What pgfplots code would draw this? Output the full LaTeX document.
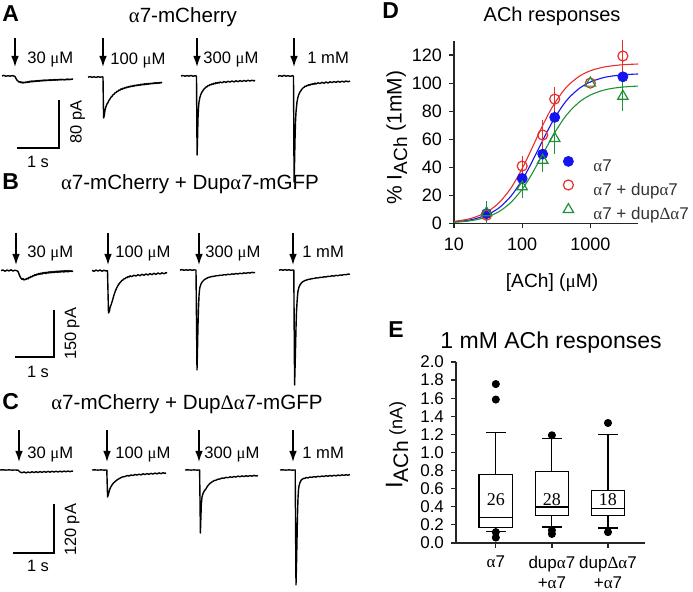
\documentclass[border=0pt]{standalone}
\usepackage{pgfplots}
\pgfplotsset{compat=1.18}
\usepgfplotslibrary{statistics}
\usetikzlibrary{arrows.meta}
\usepackage{fontspec}
\setmainfont{Liberation Sans}
\newfontfamily\grk{Liberation Serif}
\newcommand\ga{{\grk α}}
\newcommand\gm{{\grk μ}}
\newcommand\gD{{\grk Δ}}
\newcommand\fs[1]{\fontsize{#1}{#1}\selectfont}
\definecolor{cB}{RGB}{20,20,240}
\definecolor{cR}{RGB}{232,45,45}
\definecolor{cG}{RGB}{30,145,55}
\pgfplotsset{tr/.style={black, line width=0.7pt, line join=round, mark=none},
  arr/.style={black, line width=0.7pt, mark=none, -{Latex[length=5.5pt,width=3.8pt]}},
  sb/.style={black, line width=0.8pt, mark=none},
  every axis title shift=0pt}
\begin{document}
\begin{tikzpicture}
\useasboundingbox (0pt,0pt) rectangle (346.5pt,296pt);
% ---------------- left: current traces (pixel coordinates) ----------------
\begin{axis}[at={(0pt,0pt)}, anchor=south west, scale only axis,
  width=346.5pt, height=296pt, xmin=0, xmax=693, ymin=0, ymax=592,
  y dir=reverse, hide axis, clip=false]
% A traces
\addplot[tr] coordinates {(2,76.0)(4,75.4)(6,76.3)(8,75.7)(10,76.2)(12,75.6)(14,76.1)(15,76.5)(16,78.5)(17,80.2)(18,81.0)(19,82.2)(20,81.6)(21,82.8)(22,82.0)(23,83.1)(24,82.2)(25,82.9)(26,81.8)(27,82.6)(28,81.5)(29,82.4)(30,81.2)(31,82.0)(32,80.9)(33,81.9)(34,80.8)(35,81.6)(36,80.7)(37,81.5)(38,80.4)(39,81.3)(40,80.3)(41,81.1)(42,80.2)(43,81.0)(44,79.9)(45,80.8)(46,80.0)(47,80.7)(48,79.8)(49,80.6)(50,79.6)(51,80.5)(52,79.7)(53,80.3)(54,79.5)(55,80.4)(56,79.4)(57,80.2)(58,79.6)(59,80.1)(60,79.3)(61,80.0)(62,79.2)(63,79.9)(64,79.4)(65,80.0)(66,79.1)(67,79.7)(68,79.0)(69,79.8)(70,79.2)(71,79.6)(72,78.9)(73,79.4)};
\addplot[tr] coordinates {(88,77.2)(90,76.6)(92,77.3)(94,76.8)(96,77.4)(98,76.7)(100,77.2)(102,76.9)(103,77.0)(103.3,100)(103.6,118)(104.2,116)(105,110)(106,106.5)(107,104)(108,102.5)(109,100.3)(110,99.0)(111,97.2)(112,96.4)(113,94.8)(114,94.3)(115,92.9)(116,92.6)(117,91.4)(118,91.3)(119,90.0)(120,90.2)(121,88.9)(122,89.3)(123,88.2)(124,88.7)(125,87.5)(126,88.0)(127,86.9)(128,87.5)(129,86.4)(130,87.0)(131,85.9)(132,86.6)(133,85.5)(134,86.3)(135,85.1)(136,85.9)(137,84.8)(138,85.6)(139,84.6)(140,85.3)(141,84.2)(142,85.0)(143,84.0)(144,84.8)(145,83.7)(146,84.6)(147,83.5)(148,84.3)(149,83.4)(150,84.1)(151,83.1)(152,83.9)(153,83.0)(154,83.7)(155,82.7)(156,83.6)(157,82.6)(158,83.4)(159,82.5)(160,83.2)(161,82.3)(162,83.0)};
\addplot[tr] coordinates {(181,76.0)(183,75.5)(185,76.2)(187,75.6)(189,76.1)(191,75.5)(193,76.2)(195,75.8)(196.5,76)(196.8,120)(197.1,155)(197.5,140)(198,118)(198.5,108)(199,102)(200,97)(201,94)(202,92)(203,90.5)(204,89)(205,88.2)(206,87)(207,86.8)(208,85.6)(209,85.7)(210,84.6)(211,84.9)(212,83.8)(213,84.3)(214,83.2)(215,83.8)(216,82.7)(217,83.4)(218,82.3)(219,83.1)(220,82.0)(222,82.8)(224,81.6)(226,82.4)(228,81.3)(230,82.1)(232,81.0)(234,81.9)(236,80.8)(238,81.7)(240,80.6)(242,81.5)(244,80.4)(246,81.3)(248,80.3)(250,81.1)(252,80.2)(254,80.9)(255,80.3)};
\addplot[tr] coordinates {(278,76.3)(280,75.6)(282,76.4)(284,75.4)(286,76.2)(288,75.7)(290,76.3)(292,75.8)(293.5,76)(293.8,130)(294.1,182)(294.5,165)(295,140)(295.5,122)(296,112)(297,102)(298,97)(299,94)(300,92)(301,90.5)(302,89)(303,88)(304,87.3)(305,86.2)(306,86.4)(307,85.3)(308,85.7)(309,84.6)(310,85.2)(311,84.0)(312,84.7)(313,83.6)(314,84.3)(315,83.1)(316,84.0)(318,82.8)(320,83.6)(322,82.3)(324,83.3)(326,82.0)(328,83.0)(330,81.8)(332,82.6)(334,81.6)(336,82.4)(338,81.3)(340,82.2)(342,81.2)(344,82.0)(346,81.0)(348,81.8)(350,81.1)};
% B traces
\addplot[tr] coordinates {(1,270.6)(3,270.0)(5,271.2)(7,270.1)(9,270.9)(11,269.8)(13,271.0)(15,270.2)(17,270.8)(18,271.5)(19,274)(20,276.5)(21,278.2)(22,279.3)(23,278.6)(24,280.0)(25,279.1)(26,279.6)(27,278.2)(28,278.9)(29,277.3)(30,277.8)(31,276.4)(32,276.9)(33,275.4)(34,276.0)(35,274.6)(36,275.3)(37,274.0)(38,274.8)(39,273.4)(40,274.3)(41,273.0)(42,274.1)(43,272.6)(44,273.5)(45,272.4)(46,273.6)(47,272.2)(48,273.1)(49,271.8)(50,272.9)(51,271.7)(52,272.8)(53,271.5)(54,272.6)(55,271.3)(56,272.4)(57,271.2)(58,272.5)(59,271.0)(60,272.2)(61,270.9)(62,272.0)(63,270.8)(64,272.1)(65,270.6)(66,271.8)(67,270.7)(68,271.9)(69,270.5)(70,271.6)(71,270.8)(72,271.5)(73,270.9)};
\addplot[tr] coordinates {(92,270.4)(94,271.3)(96,270.1)(98,271.1)(100,270.0)(102,271.2)(104,270.3)(106,271.0)(107.5,270.7)(108,292)(108.5,313)(109.5,311)(110,308)(111,305)(112,302)(113,298.5)(114,295)(115,292)(116,289.5)(117,287.3)(118,285.5)(119,284)(120,282.6)(121,281.6)(122,280.4)(123,280.0)(124,278.8)(125,278.7)(126,277.6)(127,277.8)(128,276.6)(129,277.1)(130,275.9)(132,276.6)(134,275.2)(136,276.1)(138,274.7)(140,275.7)(142,274.3)(144,275.3)(146,273.9)(148,275.0)(150,273.6)(152,274.7)(154,273.3)(156,274.4)(158,273.0)(160,274.1)(162,272.8)(164,273.8)(166,272.6)(167,273.2)};
\addplot[tr] coordinates {(180,270.1)(182,269.6)(184,270.3)(186,269.8)(188,270.2)(190,269.7)(192,270.3)(194,269.9)(196,270.1)(196.5,320)(197,370)(197.5,350)(198,325)(198.5,308)(199,296)(199.5,290)(200,287)(201,284)(202,282.3)(203,281.0)(204,280.0)(205,279.3)(206,278.6)(207,278.2)(208,277.6)(210,277.1)(212,276.5)(214,276.3)(216,275.8)(218,275.7)(220,275.2)(222,275.3)(224,274.7)(226,274.9)(228,274.3)(230,274.6)(232,273.9)(234,274.3)(236,273.5)(238,274.0)(240,273.2)(242,273.7)(244,272.9)(246,273.4)(248,272.6)(250,273.1)(252,272.3)(254,272.8)(255,272.3)};
\addplot[tr] coordinates {(279,270.2)(281,269.7)(283,270.3)(285,269.6)(287,270.2)(289,269.8)(291,270.3)(293,270.0)(293.8,270.2)(294.2,330)(294.6,385)(295,370)(295.5,350)(296,328)(296.5,312)(297,303)(297.5,296)(298,291)(299,287)(300,285)(301,283.5)(302,282.3)(303,281.6)(304,281.1)(305,280.4)(306,280.3)(308,279.5)(310,279.2)(312,278.6)(314,278.5)(316,277.9)(318,278.0)(320,277.3)(322,277.5)(324,276.8)(326,277.0)(328,276.3)(330,276.5)(332,275.8)(334,276.1)(336,275.4)(338,275.7)(340,275.0)(342,275.2)(344,274.5)(346,274.8)(348,274.1)(350,274.3)};
% C traces
\addplot[tr] coordinates {(0,470.0)(3,469.8)(6,470.1)(9,469.9)(12,470.1)(15,470.0)(18,470.2)(19,471.0)(20,472.0)(22,472.8)(24,471.9)(26,472.9)(28,472.0)(30,472.7)(32,471.8)(34,472.6)(36,471.7)(38,472.5)(40,471.6)(42,472.4)(44,471.5)(46,472.3)(48,471.4)(50,472.2)(52,471.3)(54,472.1)(56,471.2)(58,472.0)(60,471.2)(62,471.9)(64,471.1)(66,471.8)(68,471.0)(70,471.7)(72,471.0)(73,471.4)};
\addplot[tr] coordinates {(92,470.0)(95,469.9)(98,470.1)(101,469.9)(104,470.1)(106.8,470.0)(107.2,484)(107.6,497)(108.5,494)(109.5,490)(110.5,487.5)(112,485)(113.5,483)(115,481.6)(117,480)(119,478.7)(121,477.6)(123,476.8)(125,476.6)(127,475.6)(129,476.0)(131,475.0)(133,475.5)(135,474.5)(137,475.1)(139,474.2)(141,474.9)(143,473.8)(145,474.6)(147,473.6)(149,474.3)(151,473.4)(153,474.1)(155,473.1)(157,473.9)(159,472.9)(161,473.7)(163,472.7)(165,473.4)(166,472.9)};
\addplot[tr] coordinates {(185,470.0)(188,469.9)(191,470.1)(194,469.9)(197,470.1)(199.6,470.0)(200,500)(200.4,533)(200.8,520)(201.3,505)(202,497)(203,493.5)(204,491.5)(205,490)(206,488.8)(207,487)(208,485.5)(209,484.5)(210,483.3)(211,482.7)(212,481.8)(213,481.5)(214,480.6)(216,480.2)(218,479.2)(220,479.0)(222,478.0)(224,478.3)(226,477.3)(228,477.8)(230,476.8)(232,477.4)(234,476.5)(236,477.1)(238,476.1)(240,476.8)(242,475.9)(244,476.6)(246,475.7)(248,476.4)(250,475.6)(252,476.2)(254,475.4)(256,476.0)(258,475.6)};
\addplot[tr] coordinates {(280,470.0)(283,469.9)(286,470.1)(289,469.9)(292,470.1)(295.2,470.0)(295.6,530)(296,585)(296.5,565)(297,540)(297.5,515)(298,498)(298.5,490)(299,486)(300,482.5)(301,480.5)(302,479.3)(303,478.8)(304,478.2)(305,478.4)(306,477.6)(308,477.9)(310,477.0)(312,477.4)(314,476.6)(316,477.1)(318,476.3)(320,476.8)(322,476.0)(324,476.5)(326,475.7)(328,476.3)(330,475.5)(332,476.1)(334,475.3)(336,475.9)(338,475.1)(340,475.6)(342,474.9)(344,475.4)(346,474.7)(348,475.2)(350,474.6)};
% arrows
\addplot[arr] coordinates {(15,38)(15,67)};
\addplot[arr] coordinates {(103,38)(103,67)};
\addplot[arr] coordinates {(197,38)(197,67)};
\addplot[arr] coordinates {(294,38)(294,67)};
\addplot[arr] coordinates {(16,233)(16,265)};
\addplot[arr] coordinates {(108,233)(108,265)};
\addplot[arr] coordinates {(199,233)(199,265)};
\addplot[arr] coordinates {(293,233)(293,265)};
\addplot[arr] coordinates {(19,430)(19,462)};
\addplot[arr] coordinates {(107,430)(107,462)};
\addplot[arr] coordinates {(199,430)(199,462)};
\addplot[arr] coordinates {(293,430)(293,462)};
% scale bars
\addplot[sb] coordinates {(17,148)(59,148)(59,100)};
\addplot[sb] coordinates {(15,357)(54,357)(54,310)};
\addplot[sb] coordinates {(13,553)(54,553)(54,504)};
% text
\begin{scope}[every node/.style={inner sep=0pt}]
\node[anchor=base west, font=\bfseries\fs{11.5}] at (axis cs:2,22) {A};
\node[anchor=base west, font=\bfseries\fs{11.5}] at (axis cs:2,190) {B};
\node[anchor=base west, font=\bfseries\fs{11.5}] at (axis cs:2,410) {C};
\node[anchor=base west, font=\bfseries\fs{11.5}] at (axis cs:382,19) {D};
\node[anchor=base west, font=\bfseries\fs{11.5}] at (axis cs:388,338) {E};
\node[anchor=base, font=\fs{10.3}] at (axis cs:183,23) {\ga7-mCherry};
\node[anchor=base, font=\fs{10.3}] at (axis cs:190,190) {\ga7-mCherry + Dup\ga7-mGFP};
\node[anchor=base, font=\fs{10.3}] at (axis cs:187,410) {\ga7-mCherry + Dup\gD\ga7-mGFP};
\begin{scope}[every node/.append style={anchor=base west, font=\fs{8.3}}]
\node at (axis cs:27,64) {30 \gm M};
\node at (axis cs:110,65) {100 \gm M};
\node at (axis cs:203,64) {300 \gm M};
\node at (axis cs:307,64) {1 mM};
\node at (axis cs:27,258) {30 \gm M};
\node at (axis cs:115,258) {100 \gm M};
\node at (axis cs:205,258) {300 \gm M};
\node at (axis cs:302,258) {1 mM};
\node at (axis cs:27,459) {30 \gm M};
\node at (axis cs:115,459) {100 \gm M};
\node at (axis cs:204,459) {300 \gm M};
\node at (axis cs:302,459) {1 mM};
\end{scope}
\begin{scope}[every node/.append style={font=\fs{8.2}}]
\node[rotate=90] at (axis cs:77.5,122) {80 pA};
\node at (axis cs:38,162) {1 s};
\node[rotate=90] at (axis cs:72,334) {150 pA};
\node at (axis cs:38,372) {1 s};
\node[rotate=90] at (axis cs:72,530) {120 pA};
\node at (axis cs:38,566) {1 s};
\end{scope}
\end{scope}
\end{axis}
% ---------------- D: dose response ----------------
\begin{axis}[at={(227pt,184.25pt)}, anchor=south west, scale only axis,
  width=92pt, height=91.25pt,
  xmode=log, xmin=10, xmax=5000, ymin=0, ymax=130,
  axis x line*=bottom, axis y line*=left,
  axis line style={-, line width=0.6pt, black!85},
  xtick={10,100,1000}, xticklabels={10,100,1000}, xminorticks=false,
  ytick={0,20,40,60,80,100,120},
  tick align=outside, major tick length=2.5pt,
  tick style={line width=0.6pt, black!85},
  ticklabel style={font=\fs{9}},
  xticklabel style={yshift=-1pt},
  /pgf/number format/assume math mode=true,
  title={ACh responses}, title style={font=\fs{10}, at={(rel axis cs:0.533,1.105)}, anchor=base, inner sep=0pt},
  xlabel={[ACh] (\gm M)}, xlabel style={font=\fs{9.6}, at={(rel axis cs:0.533,-0.351)}, anchor=base, inner sep=0pt},
  ylabel={\% I\raisebox{-0.5ex}{\fs{9.5}ACh} (1mM)}, ylabel style={font=\fs{10.5}, at={(rel axis cs:-0.31,0.47)}, anchor=center, inner sep=0pt},
  legend style={draw=none, fill=none, font=\fs{8.5}, text=black!80, at={(rel axis cs:0.587,0.37)}, anchor=north west, inner sep=0pt, row sep=2.25pt, cells={anchor=west},
    nodes={inner sep=0pt, text height=6.5pt, text depth=2pt}},
  legend cell align=left,
  legend image code/.code={\draw[#1] plot coordinates {(0pt,2.8pt)}; \path[draw=none, fill=none] (-3pt,2.8pt) -- (12.5pt,2.8pt);},
  error bars/y dir=both, error bars/y explicit,
]
\addplot[cB, line width=0.55pt, smooth, forget plot] coordinates {(10,1.09)(15,2.06)(20,3.23)(30,6.01)(40,9.22)(50,12.69)(70,20.04)(100,31.0)(130,41.0)(170,52.3)(200,59.2)(250,68.3)(300,75.2)(400,84.5)(500,90.2)(700,96.5)(1000,100.8)(1500,103.7)(2000,104.9)(3000,105.9)(5000,106.5)};
\addplot[cR, line width=0.55pt, smooth, forget plot] coordinates {(10,1.48)(15,2.79)(20,4.37)(30,8.06)(40,12.27)(50,16.76)(70,25.97)(100,39.1)(130,50.5)(170,62.7)(200,69.9)(250,79.1)(300,85.7)(400,94.4)(500,99.5)(700,105.1)(1000,108.8)(1500,111.2)(2000,112.2)(3000,113.1)(5000,113.6)};
\addplot[cG, line width=0.55pt, smooth, forget plot] coordinates {(10,0.81)(15,1.54)(20,2.41)(30,4.52)(40,6.97)(50,9.67)(70,15.5)(100,24.4)(130,32.9)(170,42.9)(200,49.25)(250,57.9)(300,64.7)(400,74.1)(500,80.0)(700,86.8)(1000,91.5)(1500,94.7)(2000,96.1)(3000,97.2)(5000,97.9)};
\addplot[cB, only marks, mark=*, mark size=2.5pt, error bars/error bar style={line width=0.5pt}, error bars/error mark options={line width=0.5pt, mark size=3pt}]
  coordinates {(30,7) +- (0,2) (100,32.1) +- (0,4.5) (200,49.4) +- (0,5) (300,75.6) +- (0,6) (3000,104.5) +- (0,4)};
\addlegendentry{\ga7}
\addplot[cR, only marks, mark=o, mark size=2.5pt, mark options={line width=0.6pt}, error bars/error bar style={line width=0.5pt}, error bars/error mark options={line width=0.5pt, mark size=3pt}]
  coordinates {(30,5.9) +- (0,2) (100,40.9) +- (0,3) (200,63) +- (0,6.5) (300,88.6) +- (0,4) (3000,119.3) +- (0,9.5)};
\addlegendentry{\ga7 + dup\ga7}
\addplot[cG, only marks, mark=triangle, mark size=3pt, mark options={line width=0.6pt}, error bars/error bar style={line width=0.5pt}, error bars/error mark options={line width=0.5pt, mark size=3pt}]
  coordinates {(30,7.6) +- (0,3.8) (100,26.1) +- (0,3.5) (200,45.1) +- (0,4) (300,60.6) +- (0,7) (3000,90.6) +- (0,6.5)};
\addlegendentry{\ga7 + dup\gD\ga7}
\addplot[cR, only marks, mark=o, mark size=2.5pt, mark options={line width=0.6pt}, forget plot] coordinates {(1000,100)};
\addplot[cG, only marks, mark=triangle, mark size=3pt, mark options={line width=0.6pt}, forget plot] coordinates {(1000,100)};
\end{axis}
% ---------------- E: box plots ----------------
\begin{axis}[at={(228pt,24.5pt)}, anchor=south west, scale only axis,
  width=94.5pt, height=90.5pt,
  xmin=0.29, xmax=3.66, ymin=0, ymax=2,
  boxplot/draw direction=y,
  axis x line*=bottom, axis y line*=left,
  axis line style={-, line width=0.6pt, black!85},
  xtick={1,2,3},
  xticklabels={\ga7, dup\ga7\\+\ga7, dup\gD\ga7\\+\ga7},
  xticklabel style={align=center, font=\fontsize{8.5}{10.3}\selectfont, yshift=-0.5pt},
  ytick={0,0.2,...,2.01},
  yticklabel style={font=\fs{8.5}, /pgf/number format/.cd, fixed, fixed zerofill, precision=1},
  /pgf/number format/assume math mode=true,
  tick align=outside, major tick length=2.5pt,
  tick style={line width=0.6pt, black!85},
  title={1 mM ACh responses}, title style={font=\fs{11.5}, at={(rel axis cs:0.503,1.077)}, anchor=base, inner sep=0pt},
  ylabel={{\fs{12}I}\raisebox{-0.55ex}{\fs{10.5}ACh} {\fs{9}(nA)}}, ylabel style={at={(rel axis cs:-0.312,0.54)}, anchor=center, inner sep=0pt},
]
\addplot[black, line width=0.55pt, fill=white, boxplot prepared={draw position=1, lower whisker=0.13, lower quartile=0.17, median=0.28, upper quartile=0.755, upper whisker=1.218, box extend=0.6, whisker extend=0.35}] coordinates {};
\addplot[black, line width=0.55pt, fill=white, boxplot prepared={draw position=2, lower whisker=0.177, lower quartile=0.306, median=0.398, upper quartile=0.79, upper whisker=1.15, box extend=0.6, whisker extend=0.35}] coordinates {};
\addplot[black, line width=0.55pt, fill=white, boxplot prepared={draw position=3, lower whisker=0.166, lower quartile=0.306, median=0.379, upper quartile=0.578, upper whisker=1.2, box extend=0.6, whisker extend=0.35}] coordinates {};
\addplot[black, only marks, mark=*, mark size=1.8pt] coordinates {(1,1.756)(1,1.585)(1,0.12)(1,0.06)(2,1.19)(2,0.14)(2,0.10)(3,1.326)(3,0.12)};
\node[font=\grk\fs{9}, inner sep=0pt] at (axis cs:1,0.475) {26};
\node[font=\grk\fs{9}, inner sep=0pt] at (axis cs:2,0.475) {28};
\node[font=\grk\fs{9}, inner sep=0pt] at (axis cs:3,0.475) {18};
\end{axis}
\end{tikzpicture}
\end{document}
